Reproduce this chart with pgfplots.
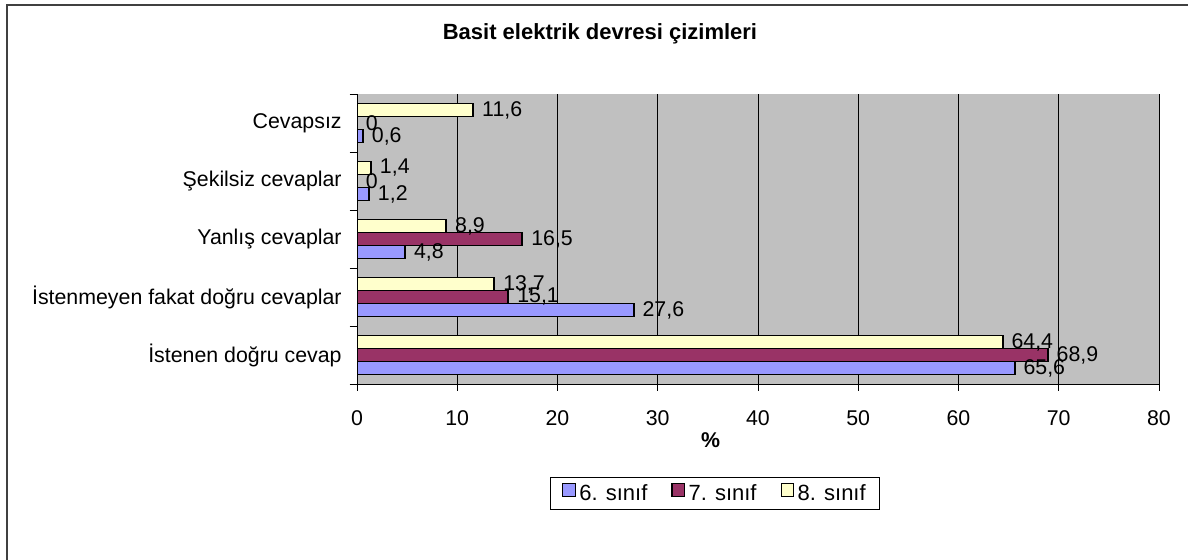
\documentclass[border=0pt]{standalone}
\usepackage{fontspec}
\setmainfont{Liberation Sans}
\usepackage{pgfplots}
\pgfplotsset{compat=1.18}
\definecolor{cBlue}{HTML}{9999FF}
\definecolor{cMaroon}{HTML}{993366}
\definecolor{cYellow}{HTML}{FFFFCC}
\definecolor{cGrey}{HTML}{C0C0C0}
\begin{document}
\begin{tikzpicture}
\useasboundingbox (0pt,0pt) rectangle (891pt,420pt);
\draw[line width=1.1pt, black!75] (5.25pt,-5pt) -- (5.25pt,416.25pt) -- (900pt,416.25pt);
\begin{axis}[
  at={(267.75pt,132pt)}, anchor=south west,
  scale only axis, width=601.5pt, height=217.5pt,
  xbar, bar width=9.75pt,
  xmin=0, xmax=80, ymin=-0.5, ymax=4.5,
  xtick={0,10,...,80},
  ytick={0,1,2,3,4},
  yticklabels={İstenen doğru cevap, İstenmeyen fakat doğru cevaplar, Yanlış cevaplar, Şekilsiz cevaplar, Cevapsız},
  minor ytick={-0.5,0.5,1.5,2.5,3.5,4.5},
  ytick style={draw=none},
  minor y tick style={draw=black, line width=0.6pt},
  x tick style={draw=black, line width=0.6pt},
  major tick length=5pt, minor tick length=5.5pt,
  tick align=outside,
  axis x line*=bottom, axis y line*=left,
  axis line style={black, line width=0.7pt},
  xmajorgrids, grid style={black, line width=0.6pt},
  axis background/.style={fill=cGrey},
  /pgf/number format/assume math mode=true,
  /pgf/number format/use comma,
  tick label style={font=\fontsize{16}{19}\selectfont},
  yticklabel style={xshift=-3pt},
  xticklabel style={yshift=-11.5pt},
  title={Basit elektrik devresi çizimleri},
  title style={font=\bfseries\fontsize{16.5}{20}\selectfont, at={(axis description cs:0.303,1)}, anchor=center, yshift=39pt},
  xlabel={\%},
  xlabel style={font=\bfseries\fontsize{16}{19}\selectfont, at={(axis description cs:0.441,0)}, anchor=center, yshift=-42pt},
  legend columns=3,
  legend style={at={(axis description cs:0.446,0)}, anchor=center, yshift=-82.1pt,
    draw=black, line width=0.6pt, fill=white, font=\fontsize{16.5}{19}\selectfont,
    inner xsep=9pt, inner ysep=3pt,
    nodes={inner xsep=1pt, inner ysep=2pt},
    /tikz/every odd column/.append style={column sep=1.5pt},
    /tikz/every even column/.append style={column sep=17pt}},
  nodes near coords={\pgfmathprintnumber[fixed,precision=1,use comma,assume math mode=true]{\pgfplotspointmeta}},
  every node near coord/.append style={font=\fontsize{16}{19}\selectfont, anchor=west, inner sep=1pt, xshift=5pt, text=black},
  myleg/.style={legend image code/.code={\draw[##1,line width=0.8pt,draw=black] (0pt,-2.2pt) rectangle (9.5pt,7.3pt);}},
]
\addplot[fill=cBlue, draw=black, line width=1.4pt, bar shift=-9.75pt, myleg] coordinates {(65.6,0) (27.6,1) (4.8,2) (1.2,3) (0.6,4)};
\addplot[fill=cMaroon, draw=black, line width=1.4pt, bar shift=0pt, myleg] coordinates {(68.9,0) (15.1,1) (16.5,2) (0,3) (0,4)};
\addplot[fill=cYellow, draw=black, line width=1.4pt, bar shift=9.75pt, myleg] coordinates {(64.4,0) (13.7,1) (8.9,2) (1.4,3) (11.6,4)};
\legend{6. sınıf, 7. sınıf, 8. sınıf}
\end{axis}
\end{tikzpicture}
\end{document}
